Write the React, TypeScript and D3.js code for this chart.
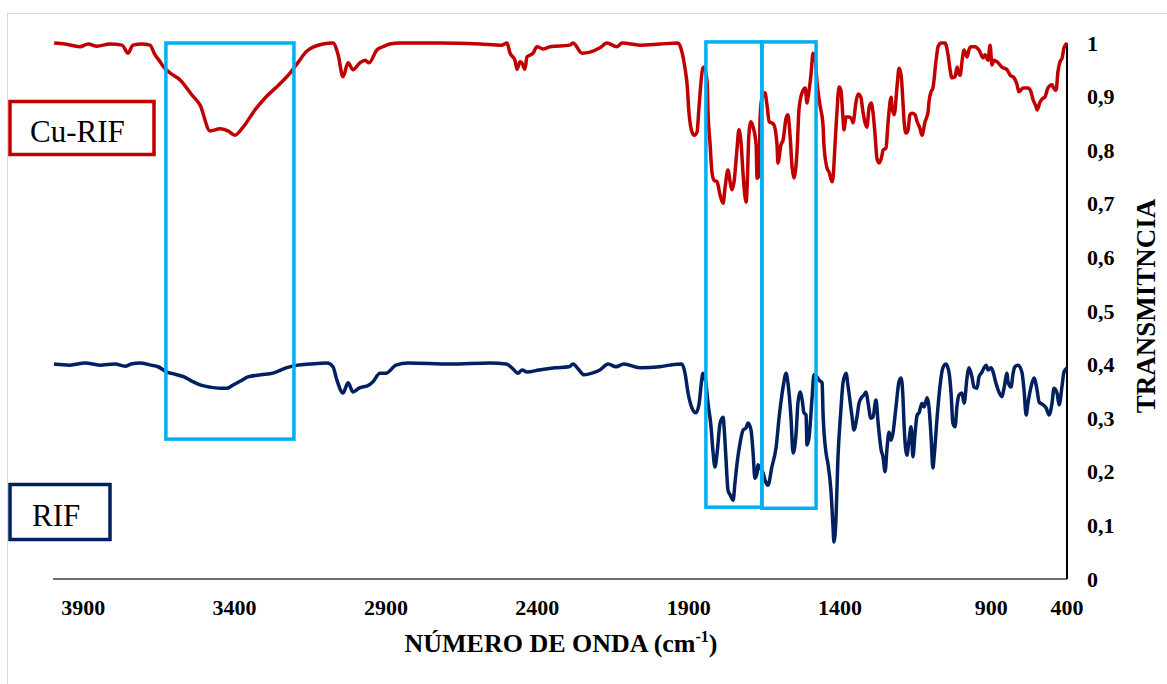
import React from "react";
import * as d3 from "d3";

// FTIR spectra: [wavenumber cm-1, transmittance]
const cuRif: [number, number][] = [
  [3996,1.000],[3960,0.998],[3911,0.993],[3884,0.998],[3855,0.994],[3812,0.998],[3772,0.996],[3752,0.981],[3736,0.996],[3706,0.998],[3680,0.996],[3663,0.978],[3646,0.965],[3637,0.957],[3613,0.944],[3580,0.931],[3541,0.903],[3514,0.884],[3481,0.836],[3448,0.840],[3422,0.836],[3399,0.828],[3372,0.843],[3333,0.875],[3300,0.897],[3250,0.924],[3217,0.944],[3194,0.961],[3161,0.985],[3108,0.998],[3075,1.000],[3058,0.978],[3042,0.937],[3025,0.963],[3009,0.950],[2986,0.963],[2969,0.968],[2956,0.963],[2930,0.987],[2910,0.993],[2887,0.998],[2854,1.000],[2721,1.000],[2589,0.998],[2517,0.996],[2500,1.000],[2490,0.981],[2474,0.968],[2467,0.951],[2457,0.965],[2451,0.963],[2441,0.951],[2434,0.974],[2414,0.981],[2401,0.993],[2381,0.989],[2358,0.993],[2292,0.996],[2282,1.000],[2252,0.981],[2226,0.983],[2193,0.991],[2170,1.000],[2137,0.993],[2120,1.000],[2061,0.996],[1995,0.998],[1935,1.000],[1922,0.983],[1912,0.953],[1905,0.922],[1899,0.871],[1889,0.834],[1882,0.828],[1872,0.834],[1866,0.879],[1853,0.953],[1849,0.955],[1839,0.927],[1836,0.871],[1829,0.810],[1823,0.759],[1816,0.744],[1806,0.741],[1796,0.716],[1786,0.701],[1780,0.729],[1770,0.763],[1763,0.741],[1757,0.726],[1750,0.741],[1740,0.804],[1734,0.838],[1727,0.815],[1720,0.754],[1710,0.703],[1707,0.729],[1701,0.828],[1694,0.853],[1687,0.843],[1677,0.810],[1674,0.748],[1667,0.754],[1664,0.860],[1658,0.897],[1648,0.907],[1641,0.884],[1634,0.853],[1625,0.851],[1618,0.847],[1608,0.810],[1605,0.776],[1595,0.810],[1588,0.819],[1578,0.860],[1572,0.866],[1565,0.828],[1558,0.767],[1552,0.748],[1542,0.797],[1535,0.879],[1522,0.912],[1515,0.916],[1509,0.888],[1506,0.897],[1496,0.940],[1489,0.981],[1482,0.972],[1476,0.927],[1466,0.884],[1456,0.847],[1453,0.810],[1443,0.767],[1436,0.759],[1426,0.741],[1423,0.748],[1416,0.815],[1410,0.871],[1403,0.918],[1397,0.912],[1390,0.860],[1387,0.838],[1380,0.862],[1370,0.862],[1360,0.856],[1357,0.851],[1347,0.890],[1340,0.905],[1331,0.899],[1324,0.871],[1317,0.851],[1311,0.843],[1304,0.879],[1297,0.888],[1291,0.871],[1284,0.828],[1278,0.785],[1271,0.776],[1261,0.791],[1258,0.800],[1248,0.804],[1241,0.853],[1231,0.899],[1228,0.879],[1221,0.866],[1211,0.922],[1205,0.953],[1198,0.940],[1192,0.890],[1188,0.853],[1182,0.832],[1175,0.838],[1169,0.866],[1162,0.869],[1152,0.866],[1145,0.853],[1136,0.841],[1129,0.828],[1119,0.853],[1109,0.871],[1106,0.890],[1099,0.909],[1093,0.916],[1083,0.965],[1076,0.993],[1066,1.000],[1053,1.000],[1043,0.978],[1037,0.953],[1030,0.935],[1020,0.937],[1013,0.955],[1010,0.946],[1003,0.940],[997,0.965],[990,0.987],[980,0.974],[974,0.987],[967,0.993],[954,0.993],[941,0.987],[927,0.972],[921,0.978],[911,0.968],[904,0.996],[898,0.959],[891,0.968],[881,0.965],[865,0.955],[848,0.950],[838,0.940],[825,0.935],[815,0.922],[809,0.909],[795,0.916],[779,0.916],[769,0.909],[762,0.894],[752,0.881],[749,0.875],[739,0.890],[729,0.897],[723,0.899],[713,0.916],[699,0.922],[696,0.918],[686,0.912],[680,0.946],[673,0.965],[666,0.972],[660,0.991],[650,1.000]
];

const rif: [number, number][] = [
  [3997,0.401],[3944,0.399],[3894,0.403],[3845,0.399],[3795,0.401],[3762,0.397],[3742,0.401],[3713,0.403],[3676,0.399],[3653,0.396],[3623,0.386],[3597,0.382],[3567,0.377],[3541,0.369],[3514,0.362],[3481,0.358],[3448,0.356],[3425,0.356],[3405,0.362],[3382,0.369],[3356,0.377],[3313,0.381],[3273,0.384],[3230,0.394],[3191,0.399],[3151,0.401],[3095,0.403],[3075,0.396],[3062,0.371],[3042,0.347],[3025,0.366],[3009,0.349],[2989,0.356],[2956,0.362],[2943,0.368],[2920,0.384],[2900,0.384],[2867,0.399],[2827,0.403],[2688,0.401],[2556,0.403],[2503,0.401],[2484,0.394],[2464,0.384],[2450,0.390],[2434,0.386],[2394,0.390],[2341,0.394],[2295,0.396],[2282,0.401],[2265,0.392],[2246,0.381],[2219,0.384],[2193,0.390],[2166,0.401],[2140,0.396],[2114,0.401],[2061,0.394],[1995,0.396],[1962,0.399],[1922,0.401],[1912,0.384],[1902,0.347],[1889,0.319],[1876,0.310],[1866,0.325],[1856,0.375],[1853,0.384],[1843,0.366],[1836,0.328],[1826,0.284],[1820,0.241],[1813,0.209],[1806,0.235],[1796,0.291],[1786,0.302],[1783,0.284],[1777,0.228],[1770,0.166],[1763,0.157],[1753,0.147],[1747,0.179],[1740,0.216],[1730,0.254],[1720,0.278],[1710,0.282],[1704,0.291],[1694,0.278],[1687,0.235],[1681,0.188],[1674,0.198],[1671,0.213],[1664,0.207],[1654,0.198],[1648,0.185],[1638,0.175],[1625,0.209],[1611,0.246],[1601,0.302],[1588,0.358],[1578,0.384],[1572,0.366],[1562,0.302],[1555,0.235],[1545,0.272],[1539,0.328],[1532,0.349],[1525,0.334],[1519,0.310],[1512,0.306],[1509,0.250],[1502,0.265],[1492,0.340],[1486,0.381],[1476,0.377],[1469,0.371],[1459,0.366],[1456,0.310],[1446,0.235],[1440,0.216],[1430,0.166],[1423,0.097],[1420,0.069],[1413,0.116],[1407,0.222],[1397,0.315],[1390,0.366],[1380,0.384],[1373,0.358],[1360,0.302],[1354,0.278],[1344,0.302],[1337,0.328],[1327,0.340],[1321,0.343],[1314,0.349],[1307,0.328],[1298,0.300],[1291,0.302],[1281,0.334],[1274,0.291],[1264,0.241],[1258,0.228],[1251,0.200],[1245,0.241],[1238,0.274],[1231,0.259],[1225,0.272],[1215,0.321],[1205,0.368],[1198,0.375],[1192,0.340],[1188,0.284],[1179,0.231],[1172,0.259],[1165,0.284],[1159,0.228],[1152,0.272],[1145,0.306],[1139,0.310],[1129,0.328],[1122,0.321],[1112,0.338],[1106,0.321],[1099,0.265],[1093,0.207],[1089,0.228],[1079,0.302],[1070,0.358],[1060,0.394],[1050,0.401],[1040,0.386],[1033,0.347],[1027,0.291],[1020,0.284],[1013,0.325],[1007,0.343],[997,0.347],[990,0.328],[980,0.377],[974,0.394],[964,0.377],[957,0.358],[947,0.356],[941,0.377],[931,0.386],[924,0.394],[917,0.399],[911,0.390],[901,0.394],[894,0.386],[885,0.366],[875,0.349],[865,0.340],[858,0.356],[848,0.384],[845,0.368],[835,0.358],[828,0.384],[822,0.396],[812,0.399],[799,0.386],[792,0.353],[785,0.306],[779,0.328],[769,0.358],[759,0.375],[749,0.353],[742,0.330],[729,0.325],[719,0.319],[709,0.306],[699,0.330],[693,0.356],[683,0.347],[676,0.325],[666,0.362],[660,0.386],[650,0.394]
];

const xTicks = [3900, 3400, 2900, 2400, 1900, 1400, 900, 400];
const yTicks = [0, 0.1, 0.2, 0.3, 0.4, 0.5, 0.6, 0.7, 0.8, 0.9, 1];

// highlight boxes: [wavenumber from, wavenumber to, T top, T bottom]
const highlightBoxes: [number, number, number, number][] = [
  [3627, 3204, 1.0, 0.261],
  [1843, 1658, 1.002, 0.134],
  [1658, 1479, 1.002, 0.132],
];

const W = 1167;
const H = 684;
const FONT = "'Liberation Serif', 'Times New Roman', serif";

export default function App() {
  const x = d3.scaleLinear().domain([4000, 650]).range([53, 1067]);
  const xc = x.copy().clamp(true);
  const y = d3.scaleLinear().domain([0, 1]).range([579, 43]);
  const line = d3
    .line<[number, number]>()
    .x((d) => x(d[0]))
    .y((d) => y(d[1]))
    .curve(d3.curveMonotoneX);
  const fmt = d3.formatLocale({ decimal: ",", thousands: ".", grouping: [3], currency: ["", ""] }).format(".1~f");

  return (
    <svg
      width={W}
      height={H}
      style={{ position: "absolute", left: 0, top: 0, background: "#fff" }}
      fontFamily={FONT}
    >
      <rect x={7.5} y={13.5} width={1300} height={800} fill="#fff" stroke="#d9d9d9" strokeWidth={1} />

      {/* axes */}
      <line x1={x(4000)} x2={x(650)} y1={y(0)} y2={y(0)} stroke="#404040" strokeWidth={1.5} />
      <line x1={x(650)} x2={x(650)} y1={y(0)} y2={y(1)} stroke="#000" strokeWidth={2} />

      {/* spectra */}
      <path d={line(cuRif) || ""} fill="none" stroke="#C00000" strokeWidth={3.5} strokeLinejoin="round" />
      <path d={line(rif) || ""} fill="none" stroke="#002060" strokeWidth={3.5} strokeLinejoin="round" />

      {/* highlight boxes */}
      {highlightBoxes.map((b, i) => (
        <rect
          key={i}
          x={x(b[0])}
          y={y(b[2])}
          width={x(b[1]) - x(b[0])}
          height={y(b[3]) - y(b[2])}
          fill="none"
          stroke="#00B0F0"
          strokeWidth={3.5}
        />
      ))}

      {/* x tick labels */}
      {xTicks.map((t) => (
        <text key={t} x={xc(t)} y={615} textAnchor="middle" fontSize={22} fontWeight="bold" fill="#000">
          {t}
        </text>
      ))}
      {/* y tick labels */}
      {yTicks.map((t) => (
        <text key={t} x={1087} y={y(t) + 7.5} textAnchor="start" fontSize={22} fontWeight="bold" fill="#000">
          {fmt(t)}
        </text>
      ))}

      {/* axis titles */}
      <text x={561} y={652} textAnchor="middle" fontSize={26} fontWeight="bold" fill="#000">
        NÚMERO DE ONDA (cm
        <tspan fontSize={16} dy={-10}>-1</tspan>
        <tspan dy={10}>)</tspan>
      </text>
      <text
        transform={`translate(1155, 306) rotate(-90)`}
        textAnchor="middle"
        fontSize={27}
        fontWeight="bold"
        fill="#000"
      >
        TRANSMITNCIA
      </text>

      {/* legends */}
      <rect x={10} y={101.5} width={144} height={53} fill="#fff" stroke="#C00000" strokeWidth={3.5} />
      <text x={30} y={142} fontSize={31} fill="#000">Cu-RIF</text>
      <rect x={10} y={484.5} width={100} height={55} fill="#fff" stroke="#002060" strokeWidth={3.5} />
      <text x={32} y={526} fontSize={31} fill="#000">RIF</text>
    </svg>
  );
}
